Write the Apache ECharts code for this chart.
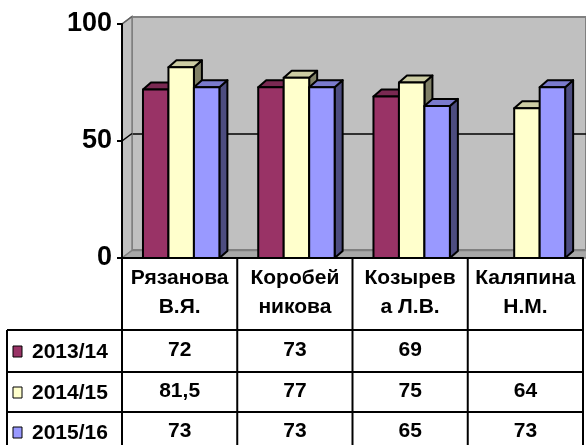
<!DOCTYPE html>
<html>
<head>
<meta charset="utf-8">
<script src="https://cdn.jsdelivr.net/npm/echarts@6/dist/echarts.min.js"></script>
<style>
  html, body { margin: 0; padding: 0; background: #fff; }
  #chart { width: 586px; height: 445px; }
</style>
</head>
<body>
<div id="chart"></div>
<script>
// data
const categories = ['Рязанова\nВ.Я.', 'Коробей\nникова', 'Козырев\nа Л.В.', 'Каляпина\nН.М.'];
const seriesNames = ['2013/14', '2014/15', '2015/16'];
const values2013 = [72, 73, 69, null];
const values2014 = [81.5, 77, 75, 64];
const values2015 = [73, 73, 65, 73];
const yTicks = [0, 50, 100];

const allValues = [values2013, values2014, values2015];
const frontColors = ['#993366', '#FFFFCC', '#9999FF'];
const topColors = ['#7A2952', '#CCCCA3', '#7A7ACC'];
const sideColors = ['#4D1A33', '#808066', '#4D4D80'];

const FONT = 'Arial, "Liberation Sans", sans-serif';
const DX = 8, DY = 7;

const chart = echarts.init(document.getElementById('chart'), null, { renderer: 'canvas' });

function barRenderer(k) {
  return function (params, api) {
    const v = api.value(1);
    if (v == null || isNaN(v)) return;
    const c = api.coord([api.value(0), v]);
    const base = api.coord([api.value(0), 0]);
    const cw = api.size([1, 0])[0];
    const w = cw * 0.221;
    const x0 = c[0] - cw / 2 + cw * 0.182 + k * w;
    const x1 = x0 + w;
    const yt = c[1], yb = base[1];
    const stroke = { stroke: '#000', lineWidth: 2, lineJoin: 'round' };
    return {
      type: 'group',
      children: [
        { type: 'polygon', shape: { points: [[x1, yt], [x1 + DX, yt - DY], [x1 + DX, yb - DY], [x1, yb]] },
          style: Object.assign({ fill: sideColors[k] }, stroke) },
        { type: 'polygon', shape: { points: [[x0, yt], [x0 + DX, yt - DY], [x1 + DX, yt - DY], [x1, yt]] },
          style: Object.assign({ fill: topColors[k] }, stroke) },
        { type: 'rect', shape: { x: x0, y: yt, width: w, height: yb - yt },
          style: Object.assign({ fill: frontColors[k] }, stroke) }
      ]
    };
  };
}

const option = {
  animation: false,
  backgroundColor: '#fff',
  grid: [
    { left: 122, right: 3, top: 24, bottom: 187 },
    { left: 132, right: 0, top: 17, bottom: 195, show: true, backgroundColor: '#C0C0C0',
      borderColor: '#808080', borderWidth: 2, z: -1 }
  ],
  xAxis: [
    {
      type: 'category', gridIndex: 0, data: categories, z: 3,
      axisLine: { lineStyle: { color: '#000', width: 2 } },
      axisTick: { show: false },
      axisLabel: { color: '#000', fontFamily: FONT, fontWeight: 'bold', fontSize: 21,
        lineHeight: 29, margin: 6, interval: 0 }
    },
    { type: 'category', gridIndex: 1, data: categories, show: false }
  ],
  yAxis: [
    {
      type: 'value', gridIndex: 0, min: 0, max: 100, interval: 50, z: 3,
      axisLine: { show: true, lineStyle: { color: '#000', width: 2 } },
      axisTick: { show: true, length: 5, lineStyle: { color: '#000', width: 2 } },
      axisLabel: { color: '#000', fontFamily: FONT, fontWeight: 'bold', fontSize: 27, margin: 10 },
      splitLine: { show: false }
    },
    {
      type: 'value', gridIndex: 1, min: 0, max: 100, interval: 50,
      axisLine: { show: false }, axisTick: { show: false }, axisLabel: { show: false },
      splitLine: { show: true, lineStyle: { color: ['#808080', '#000000', '#808080'], width: 1.5 } }
    }
  ],
  series: allValues.map((vals, k) => ({
    type: 'custom',
    name: seriesNames[k],
    xAxisIndex: 0, yAxisIndex: 0,
    z: 2,
    renderItem: barRenderer(k),
    data: vals.map((v, i) => [i, v == null ? NaN : v])
  }))
};
chart.setOption(option);

// walls, floor and the data table under the axis
const gx0 = 122, gx1 = 583;
const yAt = v => chart.convertToPixel({ yAxisIndex: 0 }, v);
const y0 = yAt(0), y100 = yAt(100), y50 = yAt(50);
const wallX = gx0 + 10, wallDY = 7.5;
const graphics = [
  { type: 'polygon', z: 1, shape: { points: [[gx0, y100], [wallX, y100 - wallDY], [wallX, y0 - wallDY], [gx0, y0]] },
    style: { fill: '#C0C0C0', stroke: '#808080', lineWidth: 1.5 } },
  { type: 'polygon', z: 1, shape: { points: [[gx0, y0], [wallX, y0 - wallDY], [590, y0 - wallDY], [590, y0]] },
    style: { fill: '#A8A8A8', stroke: '#808080', lineWidth: 1.5 } },
  { type: 'line', z: 1, shape: { x1: gx0, y1: y50, x2: wallX, y2: y50 - wallDY },
    style: { stroke: '#000', lineWidth: 1.5 } },
  { type: 'line', z: 1, shape: { x1: gx0, y1: y100, x2: wallX, y2: y100 - wallDY },
    style: { stroke: '#606060', lineWidth: 1.5 } }
];

const rowLines = [330, 372, 412];
const rowCenters = [352, 393, 433];
rowLines.forEach(y => graphics.push({ type: 'line', z: 5, shape: { x1: 7, y1: y, x2: gx1, y2: y },
  style: { stroke: '#000', lineWidth: 2 } }));
graphics.push({ type: 'line', z: 5, shape: { x1: 7, y1: rowLines[0], x2: 7, y2: 445 },
  style: { stroke: '#000', lineWidth: 2 } });

const centers = categories.map((_, i) => chart.convertToPixel({ xAxisIndex: 0 }, i));
const colW = centers.length > 1 ? centers[1] - centers[0] : 115;
const bounds = centers.map(c => c - colW / 2).concat([centers[centers.length - 1] + colW / 2]);
bounds.forEach(x => graphics.push({ type: 'line', z: 5, shape: { x1: x, y1: y0, x2: x, y2: 445 },
  style: { stroke: '#000', lineWidth: 2 } }));

seriesNames.forEach((name, k) => {
  const cy = rowCenters[k];
  graphics.push({ type: 'rect', z: 5, shape: { x: 13, y: cy - 6, width: 9, height: 11 },
    style: { fill: frontColors[k], stroke: '#000', lineWidth: 1 } });
  graphics.push({ type: 'text', z: 5, x: 32, y: cy,
    style: { text: name, fill: '#000', font: 'bold 21px ' + FONT, verticalAlign: 'middle', align: 'left' } });
  allValues[k].forEach((v, i) => {
    if (v == null) return;
    graphics.push({ type: 'text', z: 5, x: centers[i], y: cy - 2,
      style: { text: String(v).replace('.', ','), fill: '#000', font: 'bold 21px ' + FONT,
        verticalAlign: 'middle', align: 'center' } });
  });
});
chart.setOption({ graphic: graphics });
</script>
</body>
</html>
